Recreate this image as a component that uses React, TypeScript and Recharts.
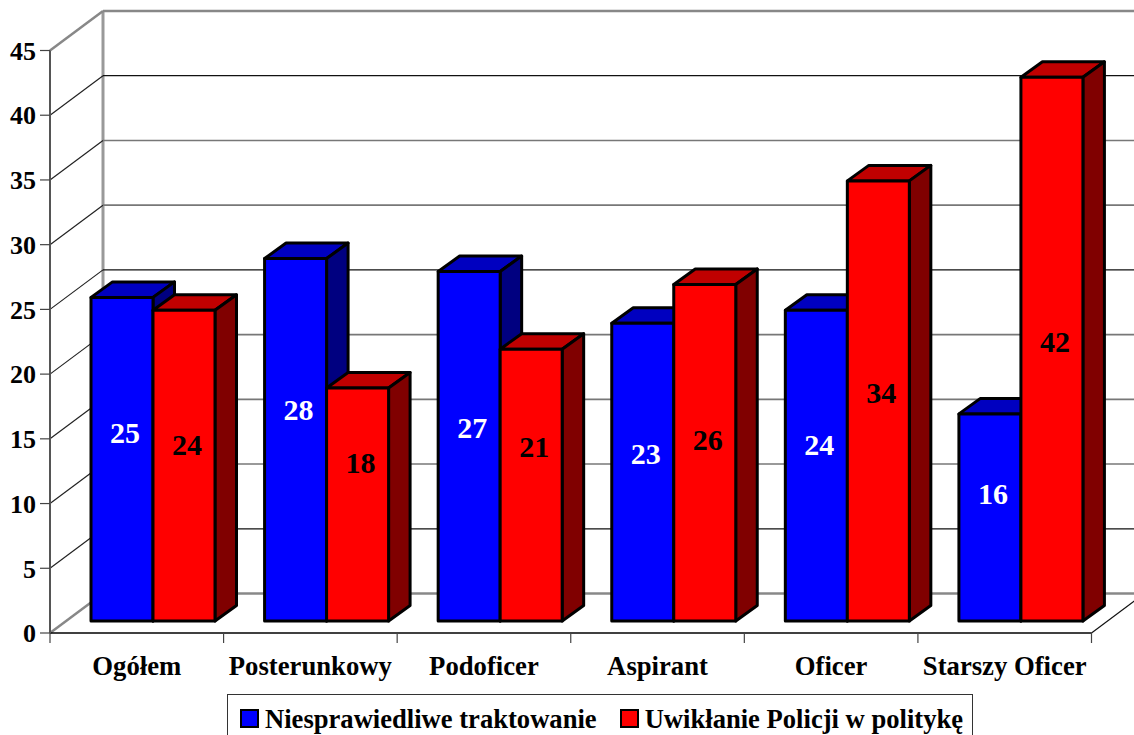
import { Bar, BarChart, CartesianGrid, LabelList, Legend, XAxis, YAxis } from 'recharts';

const categories = ['Ogółem', 'Posterunkowy', 'Podoficer', 'Aspirant', 'Oficer', 'Starszy Oficer'];
const unfairValues = [25, 28, 27, 23, 24, 16];
const politicsValues = [24, 18, 21, 26, 34, 42];
// height on the value axis where each data label sits in the reference
const unfairLabelAt = [14.4, 16.2, 14.8, 12.8, 13.5, 9.7];
const politicsLabelAt = [13.5, 12.1, 13.3, 13.9, 17.5, 21.4];
const yTicks = [0, 5, 10, 15, 20, 25, 30, 35, 40, 45];
// back wall lines drawn dark in the reference, the others come out gray
const darkLevels = [5, 25, 40];

const data = categories.map((name, i) => ({
  name,
  unfair: unfairValues[i],
  politics: politicsValues[i],
}));

const FONT = '"Liberation Serif", serif';
const WALL_DX = 53;
const WALL_DY = 39.5;
const BAR_DX = 16;
const BAR_DY = 12;
const SIDE_DX = 21.5;
const SIDE_DY = 15.5;

function WallLine({ x1, x2, y1, y, height, index }: any) {
  const isFloor = index === 0;
  const isTop = index === yTicks.length - 1;
  const strong = isFloor || isTop;
  const dark = darkLevels.includes(yTicks[index]);
  const backY = y1 - WALL_DY;
  return (
    <g>
      <line
        x1={x1}
        y1={y1}
        x2={x1 + WALL_DX}
        y2={backY}
        stroke={strong ? '#888' : '#222'}
        strokeWidth={strong ? 2.5 : 1.2}
      />
      <line
        x1={x1 + WALL_DX}
        y1={backY}
        x2={x2 + WALL_DX}
        y2={backY}
        stroke={strong ? '#888' : dark ? '#111' : '#777'}
        strokeWidth={strong ? 2.5 : dark ? 1.2 : 1.6}
      />
      {isFloor && (
        <>
          <line x1={x1 + WALL_DX} y1={y - WALL_DY} x2={x1 + WALL_DX} y2={y + height - WALL_DY} stroke="#999" strokeWidth={3} />
          <line x1={x2} y1={y1} x2={x2 + WALL_DX} y2={backY} stroke="#111" strokeWidth={1.2} />
        </>
      )}
    </g>
  );
}

function Box3D({ x, y, width, height, fill, topFill, sideFill }: any) {
  const left = x + BAR_DX;
  const right = left + width;
  const top = y - BAR_DY;
  const bottom = top + height;
  const edge = { stroke: '#000', strokeWidth: 3, strokeLinejoin: 'round' as const };
  return (
    <g>
      <polygon
        points={`${left},${top} ${left + SIDE_DX},${top - SIDE_DY} ${right + SIDE_DX},${top - SIDE_DY} ${right},${top}`}
        fill={topFill}
        {...edge}
      />
      <polygon
        points={`${right},${top} ${right + SIDE_DX},${top - SIDE_DY} ${right + SIDE_DX},${bottom - SIDE_DY} ${right},${bottom}`}
        fill={sideFill}
        {...edge}
      />
      <rect x={left} y={top} width={width} height={height} fill={fill} {...edge} />
    </g>
  );
}

function BarLabel({ x, y, width, height, value, index, labelAt, color }: any) {
  const unit = height / value;
  const bottom = y + height - BAR_DY;
  return (
    <text
      x={x + BAR_DX + width / 2 + 3}
      y={bottom - labelAt[index] * unit - 2}
      textAnchor="middle"
      dominantBaseline="central"
      fill={color}
      fontFamily={FONT}
      fontWeight="bold"
      fontSize={30}
    >
      {value}
    </text>
  );
}

function CategoryTick({ x, y, payload, width, visibleTicksCount, index }: any) {
  const step = width / visibleTicksCount;
  const edge = x + step / 2;
  return (
    <g>
      {index === 0 && <line x1={x - step / 2} y1={y - 10} x2={x - step / 2} y2={y} stroke="#444" strokeWidth={1.2} />}
      <line x1={edge} y1={y - 10} x2={edge} y2={y} stroke="#444" strokeWidth={1.2} />
      <text x={x} y={y + 32} textAnchor="middle" fill="#000" fontFamily={FONT} fontWeight="bold" fontSize={26.7}>
        {payload.value}
      </text>
    </g>
  );
}

function LegendBox() {
  const swatch = (fill: string) => (
    <span style={{ display: 'inline-block', width: 15, height: 15, background: fill, border: '2px solid #000', marginRight: 6 }} />
  );
  return (
    <div
      style={{
        boxSizing: 'border-box',
        width: 746,
        height: 60,
        border: '1px solid #333',
        background: '#fff',
        paddingLeft: 12,
        paddingTop: 9,
        fontFamily: FONT,
        fontWeight: 'bold',
        fontSize: 26.6,
        lineHeight: '30px',
        whiteSpace: 'nowrap',
      }}
    >
      {swatch('#0000ff')}
      <span style={{ marginRight: 23 }}>Niesprawiedliwe traktowanie</span>
      {swatch('#ff0000')}
      <span>Uwikłanie Policji w politykę</span>
    </div>
  );
}

export default function App() {
  return (
    <div style={{ position: 'absolute', left: 0, top: 0, width: 1134, height: 735, overflow: 'hidden', background: '#fff' }}>
      <BarChart
        width={1134}
        height={735}
        data={data}
        barSize={62}
        barGap={0}
        margin={{ top: 50.5, right: 42.5, bottom: 0, left: 0 }}
      >
        <CartesianGrid vertical={false} syncWithTicks horizontal={(props: any) => <WallLine key={props.key} {...props} />} />
        <XAxis
          dataKey="name"
          height={102}
          interval={0}
          tickLine={false}
          axisLine={{ stroke: '#000', strokeWidth: 1.5 }}
          tickMargin={0}
          tickSize={10}
          tick={(props: any) => <CategoryTick {...props} />}
        />
        <YAxis
          width={50}
          domain={[0, 45]}
          ticks={yTicks}
          interval={0}
          tickSize={10}
          tickMargin={4}
          axisLine={{ stroke: '#555', strokeWidth: 2 }}
          tickLine={{ stroke: '#444', strokeWidth: 1.2 }}
          tick={{ fill: '#000', fontFamily: FONT, fontWeight: 'bold', fontSize: 26 }}
        />
        <Legend
          verticalAlign="middle"
          align="center"
          content={() => <LegendBox />}
          wrapperStyle={{ left: 227, top: 694, width: 746, height: 60, margin: 0 }}
        />
        <Bar
          dataKey="unfair"
          name="Niesprawiedliwe traktowanie"
          fill="#0000ff"
          isAnimationActive={false}
          shape={(props: any) => <Box3D {...props} topFill="#0000c0" sideFill="#000080" />}
        >
          <LabelList dataKey="unfair" content={(props: any) => <BarLabel {...props} labelAt={unfairLabelAt} color="#fff" />} />
        </Bar>
        <Bar
          dataKey="politics"
          name="Uwikłanie Policji w politykę"
          fill="#ff0000"
          isAnimationActive={false}
          shape={(props: any) => <Box3D {...props} topFill="#c00000" sideFill="#800000" />}
        >
          <LabelList dataKey="politics" content={(props: any) => <BarLabel {...props} labelAt={politicsLabelAt} color="#000" />} />
        </Bar>
      </BarChart>
    </div>
  );
}
